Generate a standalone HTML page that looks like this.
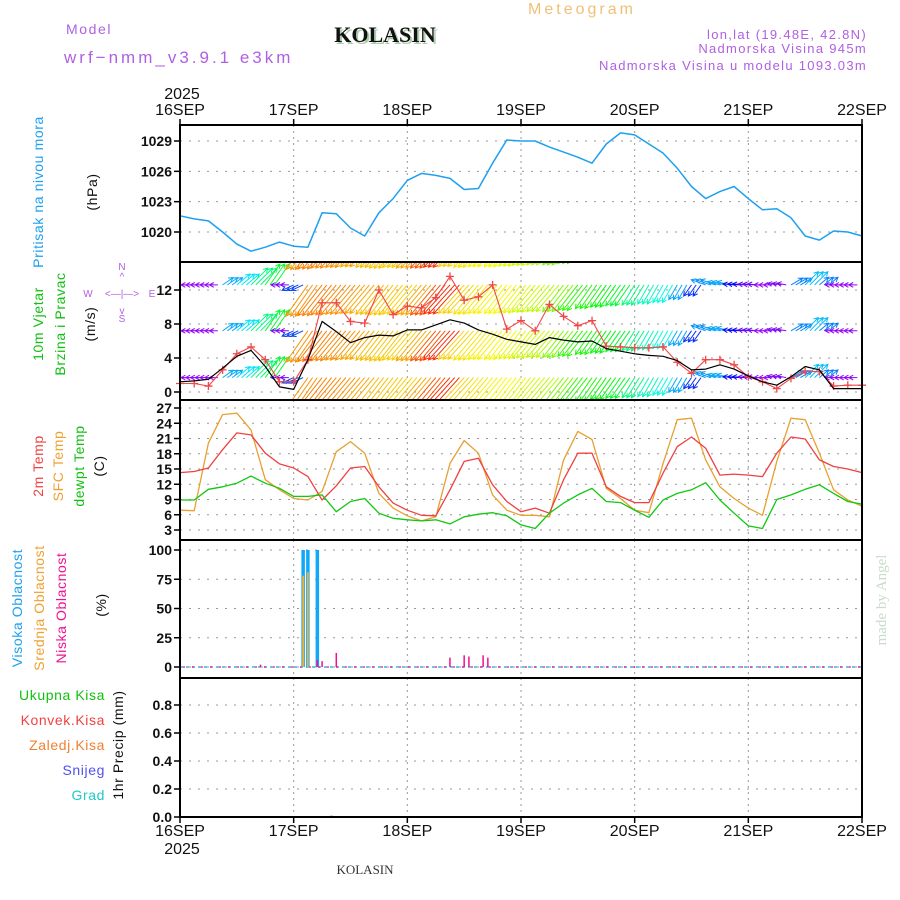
<!DOCTYPE html>
<html><head><meta charset="utf-8"><title>Meteogram KOLASIN</title>
<style>
html,body{margin:0;padding:0;background:#fff;}
svg{display:block;font-family:"Liberation Sans",sans-serif;}
</style></head>
<body>
<svg id="chart" width="900" height="900" viewBox="0 0 900 900" xmlns="http://www.w3.org/2000/svg">
  <defs>
    <clipPath id="clipWind"><rect x="180" y="262" width="682" height="138"/></clipPath>
  </defs>
  <rect x="0" y="0" width="900" height="900" fill="#fff"/>
  <!-- header -->
  <text x="582" y="14" font-size="16" fill="#f0c078" text-anchor="middle" letter-spacing="3">Meteogram</text>
  <text x="66" y="34" font-size="14" fill="#b060e0" letter-spacing="1.6">Model</text>
  <text x="64" y="63" font-size="17" fill="#b060e0" letter-spacing="3">wrf−nmm_v3.9.1 e3km</text>
  <text x="387" y="44" font-size="22" font-weight="bold" font-family="Liberation Serif, serif" fill="#aaccaa" text-anchor="middle">KOLASIN</text>
  <text x="385" y="42" font-size="22" font-weight="bold" font-family="Liberation Serif, serif" fill="#111" text-anchor="middle">KOLASIN</text>
  <text x="867" y="39" font-size="13" fill="#b060e0" text-anchor="end" letter-spacing="1.3">lon,lat (19.48E, 42.8N)</text>
  <text x="867" y="53" font-size="13" fill="#b060e0" text-anchor="end" letter-spacing="1.3">Nadmorska Visina 945m</text>
  <text x="867" y="70" font-size="13" fill="#b060e0" text-anchor="end" letter-spacing="1.3">Nadmorska Visina u modelu 1093.03m</text>
  <text x="182" y="99" font-size="16" fill="#111" text-anchor="middle">2025</text>
  <text x="182" y="854" font-size="16" fill="#111" text-anchor="middle">2025</text>
  <text x="365" y="874" font-size="13" font-family="Liberation Serif, serif" fill="#333" text-anchor="middle">KOLASIN</text>
  <text transform="translate(886,600) rotate(-90)" font-size="15" font-family="Liberation Serif, serif" fill="#c8dcc8" text-anchor="middle">made by Angel</text>

  <!-- left labels -->
  <g font-size="14" letter-spacing="0.6">
    <text transform="translate(43,192) rotate(-90)" fill="#1ea0f0" text-anchor="middle">Pritisak na nivou mora</text>
    <text transform="translate(97,192) rotate(-90)" fill="#111" text-anchor="middle">(hPa)</text>
    <text transform="translate(43,324) rotate(-90)" fill="#10c010" text-anchor="middle">10m Vjetar</text>
    <text transform="translate(65,324) rotate(-90)" fill="#10c010" text-anchor="middle">Brzina i Pravac</text>
    <text transform="translate(95,324) rotate(-90)" fill="#111" text-anchor="middle">(m/s)</text>
    <text transform="translate(43,466) rotate(-90)" fill="#f04040" text-anchor="middle">2m Temp</text>
    <text transform="translate(63,466) rotate(-90)" fill="#f0a030" text-anchor="middle">SFC Temp</text>
    <text transform="translate(84,466) rotate(-90)" fill="#10c010" text-anchor="middle">dewpt Temp</text>
    <text transform="translate(104,466) rotate(-90)" fill="#111" text-anchor="middle">(C)</text>
    <text transform="translate(22,608) rotate(-90)" fill="#1ea0f0" text-anchor="middle">Visoka Oblacnost</text>
    <text transform="translate(44,608) rotate(-90)" fill="#f0a030" text-anchor="middle">Srednja Oblacnost</text>
    <text transform="translate(66,608) rotate(-90)" fill="#f01090" text-anchor="middle">Niska Oblacnost</text>
    <text transform="translate(106,605) rotate(-90)" fill="#111" text-anchor="middle">(%)</text>
    <text x="105" y="700" fill="#10c010" text-anchor="end">Ukupna Kisa</text>
    <text x="105" y="725" fill="#f04040" text-anchor="end">Konvek.Kisa</text>
    <text x="105" y="750" fill="#f08030" text-anchor="end">Zaledj.Kisa</text>
    <text x="105" y="775" fill="#5050f0" text-anchor="end">Snijeg</text>
    <text x="105" y="800" fill="#20c8c8" text-anchor="end">Grad</text>
    <text transform="translate(123,745) rotate(-90)" fill="#111" text-anchor="middle">1hr Precip (mm)</text>
  </g>
  <!-- compass -->
  <g fill="#b060e0" font-size="10" text-anchor="middle">
    <text x="122" y="270">N</text>
    <text x="122" y="280">^</text>
    <text x="88" y="297">W</text>
    <text x="122" y="297">&lt;—|—&gt;</text>
    <text x="152" y="297">E</text>
    <text x="122" y="314">v</text>
    <text x="122" y="322">S</text>
  </g>
  <g id="grid"></g>
  <g id="marks"></g>
  <g id="frames"></g>
  <g id="axes"></g>
</svg>
<script>
// ---- data (hours 0..144 at 3-hour step from 16SEP 00) ----
const hours = [0,3,6,9,12,15,18,21,24,27,30,33,36,39,42,45,48,51,54,57,60,63,66,69,72,75,78,81,84,87,90,93,96,99,102,105,108,111,114,117,120,123,126,129,132,135,138,141,144];
const pressure = [1021.6,1021.3,1021.1,1020.0,1018.8,1018.1,1018.5,1019.0,1018.6,1018.5,1021.9,1021.8,1020.4,1019.6,1021.9,1023.3,1025.1,1025.8,1025.6,1025.3,1024.2,1024.3,1026.8,1029.1,1029.0,1029.0,1028.4,1027.9,1027.4,1026.8,1028.7,1029.8,1029.6,1028.7,1027.8,1026.3,1024.5,1023.3,1024.0,1024.5,1023.3,1022.2,1022.3,1021.4,1019.6,1019.2,1020.1,1020.0,1019.6];
const temp2m = [14.3,14.5,15.2,18.8,22.1,21.7,18.1,16.0,15.2,13.5,8.9,11.7,15.2,15.5,11.5,8.3,6.9,5.9,5.8,10.9,16.5,17.1,11.9,8.6,6.6,7.3,6.3,12.9,18.1,18.1,11.5,9.6,8.4,8.4,14.2,19.4,21.3,19.1,13.8,14.0,13.8,13.5,18.1,21.3,20.9,16.8,15.5,15.0,14.3];
const tempSfc = [6.9,6.8,20.1,25.7,26.0,22.7,12.9,10.9,9.2,8.9,10.6,18.4,20.4,18.1,10.2,7.3,5.8,4.8,5.6,16.1,20.6,18.1,9.9,6.9,5.9,5.9,5.6,16.8,22.4,20.8,11.2,9.2,6.9,6.4,16.1,24.7,25.0,16.8,11.5,9.2,7.3,5.9,16.5,25.0,24.7,18.1,10.9,8.9,7.7];
const dewpt = [8.9,8.9,11.0,11.5,12.2,13.6,12.2,11.2,9.6,9.6,9.9,6.6,8.6,9.2,6.3,5.3,5.0,4.8,5.0,4.2,5.6,6.1,6.4,5.8,4.0,3.3,6.3,8.3,9.9,11.2,8.6,8.4,6.9,5.5,8.9,10.2,10.9,12.3,8.9,6.3,3.8,3.3,9.0,9.9,11.0,11.9,10.2,8.6,8.1];
const windSpeed = [1.2,1.3,1.5,2.8,4.2,4.9,3.0,0.6,0.3,3.8,8.3,7.1,5.8,6.4,6.7,6.6,7.3,7.3,7.9,8.5,8.1,7.3,6.8,6.2,5.9,5.6,6.4,6.1,5.9,6.0,5.1,4.8,4.5,4.3,4.2,3.7,2.6,2.7,3.2,2.7,1.9,1.2,0.8,1.8,3.0,2.6,0.4,0.4,0.4];
const windGust = [1.0,1.0,0.7,2.6,4.5,5.3,3.8,1.2,1.2,3.8,10.5,10.5,8.3,8.1,12.0,9.1,10.1,9.9,11.1,13.6,10.8,11.2,12.6,7.4,8.4,7.2,10.3,8.9,7.8,8.4,5.4,5.3,5.2,5.2,5.3,3.5,2.2,3.8,3.8,3.2,1.8,1.2,0.4,1.6,2.4,2.4,0.7,0.8,0.8];
// wind arrows: direction the arrow points (deg, math convention), magnitude (m/s axis units), colour hue
const arrowAngle = [180,180,180,35,40,45,55,180,205,235,232,230,230,230,232,232,230,230,230,228,228,230,230,232,232,230,230,232,232,235,235,235,238,240,240,240,235,160,165,175,175,180,170,30,45,40,180,180,180];
const arrowMag   = [1.0,1.0,1.0,1.5,2.0,2.8,3.0,1.0,1.5,4.5,4.6,4.6,4.5,4.4,4.4,4.5,4.5,4.6,4.6,4.6,4.5,4.5,4.4,4.3,4.2,4.2,4.1,4.0,3.8,3.4,3.2,3.0,2.8,2.6,2.4,2.0,1.6,1.8,1.5,1.3,1.2,1.0,1.1,1.6,2.2,1.4,1.0,1.0,1.0];
const arrowHue   = [275,275,275,200,185,150,130,270,225,35,30,32,35,40,45,48,50,40,20,10,50,55,58,60,65,70,75,90,110,115,120,130,150,165,175,200,230,205,200,240,265,275,270,210,195,210,275,275,275];
const windRowBase = [1.7,7.2,12.6,18.1];
// cloud cover: hour, value
const cloudHighHours = [26,27,29];
const cloudHighVals = [100,100,100];
const cloudMidHours = [26,27];
const cloudMidVals = [78,81];
const cloudLowHours = [17,29,30,33,57,60,61,64,65];
const cloudLowVals = [2,6,5,12,8,10,9,10,8];
const precipHours = [32];
const precipVals = [0.002];
// axis ticks
const dayLabels = ["16SEP","17SEP","18SEP","19SEP","20SEP","21SEP","22SEP"];
const pTicks = [1020,1023,1026,1029];
const wTicks = [0,4,8,12];
const tTicks = [3,6,9,12,15,18,21,24,27];
const cTicks = [0,25,50,75,100];
const rTicks = [0,0.2,0.4,0.6,0.8];

// ---- geometry ----
const X0=180, X1=862;
const xs = h => X0 + h*(X1-X0)/144;
const P = {p:[125,262], w:[262,400], t:[400,540], c:[540,678], r:[678,817]};
const yP = v => 232 - (v-1020)*(232-141)/9;
const yW = v => 392 - v*(392-290)/12;
const yT = v => 530 - (v-3)*(530-408)/24;
const yC = v => 667 - v*(667-550)/100;
const yR = v => 817 - v*(817-705)/0.8;
const NS="http://www.w3.org/2000/svg";
function mk(parent, tag, attrs){const e=document.createElementNS(NS,tag);for(const k in attrs)e.setAttribute(k,attrs[k]);parent.appendChild(e);return e;}
const grid=document.getElementById('grid'), marks=document.getElementById('marks'), frames=document.getElementById('frames'), axes=document.getElementById('axes');

// grid lines
for(const key in P){
  const [a,b]=P[key];
  for(let d=1; d<6; d++){
    const gl=mk(grid,'line',{x1:xs(d*24),x2:xs(d*24),y1:a,y2:b,stroke:'#999','stroke-width':1,'stroke-dasharray':'2,4'});
    
    
  }
}
function hgrid(ticks, yf, dec, name){
  ticks.forEach(v=>{
    const y=yf(v);
    const gl=mk(grid,'line',{x1:X0,x2:X1,y1:y,y2:y,stroke:'#999','stroke-width':1,'stroke-dasharray':'2,7'});
    
    
    const tk=mk(axes,'line',{x1:X0-6,x2:X0,y1:y,y2:y,stroke:'#000','stroke-width':1.5});
    
    
    const t=mk(axes,'text',{x:X0-8,y:y+5,'font-size':14,'font-weight':'bold','text-anchor':'end',fill:'#111'});
    t.textContent = dec? v.toFixed(1): String(v);
    
    
  });
}
hgrid(pTicks,yP,false,'pressure');
hgrid(wTicks,yW,false,'wind');
hgrid(tTicks,yT,false,'temp');
hgrid(cTicks,yC,false,'cloud');
hgrid(rTicks,yR,true,'precip');

// frames
for(const key in P){
  const [a,b]=P[key];
  const r=mk(frames,'rect',{x:X0,y:a,width:X1-X0,height:b-a,fill:'none',stroke:'#000','stroke-width':2});
  
  
}
// day labels top and bottom
dayLabels.forEach((lab,i)=>{
  const x=xs(i*24);
  const t1=mk(axes,'text',{x:x,y:115,'font-size':16,'text-anchor':'middle',fill:'#111'});
  t1.textContent=lab;
  
  
  const t2=mk(axes,'text',{x:x,y:836,'font-size':16,'text-anchor':'middle',fill:'#111'});
  t2.textContent=lab;
  
  
  const k1=mk(axes,'line',{x1:x,x2:x,y1:119,y2:125,stroke:'#000','stroke-width':1.5});
  
  
  const k2=mk(axes,'line',{x1:x,x2:x,y1:817,y2:823,stroke:'#000','stroke-width':1.5});
  
  
});

function line(vals, yf, color, name, w){
  const d=vals.map((v,i)=>(i?'L':'M')+xs(hours[i]).toFixed(1)+','+yf(v).toFixed(1)).join('');
  const p=mk(marks,'path',{d:d,fill:'none',stroke:color,'stroke-width':w||1.3,'stroke-linejoin':'round'});
  
  
  return p;
}
// pressure
line(pressure,yP,'#1ea0f0','pressure-line',1.5);
// temperatures
line(tempSfc,yT,'#e8a030','sfc-temp-line');
line(temp2m,yT,'#f04040','2m-temp-line');
line(dewpt,yT,'#10c810','dewpoint-line');

// wind arrows
const wg=mk(marks,'g',{'clip-path':'url(#clipWind)'});


const pxPerUnit=(392-290)/12;
windRowBase.forEach((base,ri)=>{
  hours.forEach((h,i)=>{
    if(i===hours.length-1) return;
    for(let k=0;k<3;k++){
      const x=xs(h+k), y=yW(base);
      const a=arrowAngle[i]*Math.PI/180, L=arrowMag[i]*pxPerUnit;
      const x2=x+Math.cos(a)*L, y2=y-Math.sin(a)*L;
      const col='hsl('+arrowHue[i]+',95%,50%)';
      const ar=mk(wg,'path',{d:`M${x.toFixed(1)},${y.toFixed(1)}L${x2.toFixed(1)},${y2.toFixed(1)}`+
        `M${(x2-Math.cos(a-0.5)*5).toFixed(1)},${(y2+Math.sin(a-0.5)*5).toFixed(1)}L${x2.toFixed(1)},${y2.toFixed(1)}L${(x2-Math.cos(a+0.5)*5).toFixed(1)},${(y2+Math.sin(a+0.5)*5).toFixed(1)}`,
        fill:'none',stroke:col,'stroke-width':1});
      
      
    }
  });
});
// wind speed & gust
line(windGust,yW,'#f04848','wind-gust-line',1.1);
hours.forEach((h,i)=>{
  const x=xs(h), y=yW(windGust[i]);
  const m=mk(marks,'path',{d:`M${x-4},${y}h8M${x},${y-4}v8`,stroke:'#f04848','stroke-width':1.3});
  
  
});
line(windSpeed,yW,'#000','wind-speed-line',1.2);

// cloud baseline
const cb=mk(marks,'line',{x1:X0,x2:X1,y1:yC(0),y2:yC(0),stroke:'#40b0e0','stroke-width':1.5,'stroke-dasharray':'3,3'});


const cb2=mk(marks,'line',{x1:X0+3,x2:X1,y1:yC(0),y2:yC(0),stroke:'#f01090','stroke-width':1.2,'stroke-dasharray':'2,7'});


function bars(hs, vs, color, w, name){
  hs.forEach((h,i)=>{
    const x=xs(h), y=yC(vs[i]);
    const r=mk(marks,'rect',{x:x-w/2,y:y,width:w,height:yC(0)-y,fill:color});
    
    
  });
}
bars(cloudHighHours,cloudHighVals,'#10a8f8',3.5,'cloud-high-bar');
bars(cloudMidHours,cloudMidVals,'#f0b030',1.8,'cloud-mid-bar');
bars(cloudLowHours,cloudLowVals,'#f01090',1.5,'cloud-low-bar');
// precip
precipHours.forEach((h,i)=>{
  const x=xs(h), y=yR(precipVals[i]);
  const r=mk(marks,'rect',{x:x-1.5,y:y-1,width:3,height:yR(0)-y+1,fill:'#10c010'});
  
  
});
const pb=mk(marks,'line',{x1:X0,x2:X1,y1:yR(0),y2:yR(0),stroke:'#000','stroke-width':2,'stroke-dasharray':'4,2'});


</script>
</body></html>
